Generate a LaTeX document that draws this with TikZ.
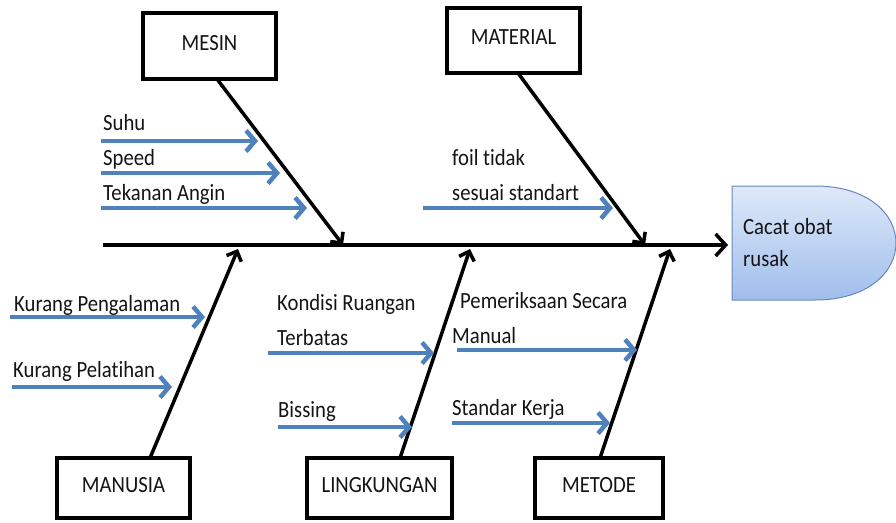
\documentclass[tikz,border=0pt]{standalone}
\usepackage{fontspec}
\setmainfont{Carlito}[Ligatures=CommonOff]
\usepackage{graphicx}
\usetikzlibrary{arrows.meta}
\definecolor{causeblue}{RGB}{79,129,189}
\definecolor{effecttop}{RGB}{222,233,249}
\definecolor{effectbot}{RGB}{160,190,236}
\definecolor{effectline}{RGB}{105,135,185}
\definecolor{txt}{RGB}{20,20,20}
\newcommand{\St}[1]{\scalebox{1}[1.12]{#1}}
\begin{document}
\begin{tikzpicture}[x=1pt,y=-1pt,
  catbox/.style={draw=black, line width=4pt, fill=white, inner sep=0pt,
    text depth=7pt, font=\fontsize{20.7}{24}\selectfont, text=txt},
  lbl/.style={anchor=base west, inner sep=0pt, font=\fontsize{20.7}{24}\selectfont, text=txt},
  bone/.style={line width=3.5pt, draw=black, -{Straight Barb[length=8pt,width=16pt]}},
  spinearrow/.style={line width=3.5pt, draw=black, -{Straight Barb[length=10pt,width=22pt]}},
  sub/.style={line width=4.5pt, draw=causeblue, -{Straight Barb[length=9pt,width=21pt]}}
]
\useasboundingbox (0,0) rectangle (896,522);

% category boxes
\node[catbox, minimum width=133pt, minimum height=66pt] (mesin) at (209.5,46) {\St{MESIN}};
\node[catbox, minimum width=133pt, minimum height=65pt] (material) at (513.5,40.5) {\St{MATERIAL}};
\node[catbox, minimum width=133pt, minimum height=60pt] (manusia) at (123.5,488) {\St{MANUSIA}};
\node[catbox, minimum width=145pt, minimum height=60pt] (lingkungan) at (379.5,488) {\St{LINGKUNGAN}};
\node[catbox, minimum width=128pt, minimum height=60pt] (metode) at (599,488) {\St{METODE}};

% effect head
\path[top color=effecttop, bottom color=effectbot, draw=effectline, line width=1pt]
  (732,186) -- (815,186) .. controls (868,186) and (896,214) .. (896,243)
  .. controls (896,272) and (868,300) .. (815,300) -- (732,300) -- cycle;
\node[anchor=west, inner sep=0pt, align=left, font=\fontsize{20.7}{32}\selectfont, text=txt]
  (effect) at (743,243) {\St{Cacat obat}\\\St{rusak}};

% spine
\coordinate (spineL) at (103,245);
\coordinate (spineTip) at (728,245);
\draw[spinearrow] (spineL) -- (spineTip);

% bones
\coordinate (mesinTail) at (217,79);
\coordinate (mesinTip) at (343,245);
\coordinate (materialTail) at (518,73);
\coordinate (materialTip) at (645,245);
\coordinate (manusiaTail) at (150,458);
\coordinate (manusiaTip) at (238,249);
\coordinate (lingkunganTail) at (400,458);
\coordinate (lingkunganTip) at (470,249);
\coordinate (metodeTail) at (600,458);
\coordinate (metodeTip) at (670,249);
\draw[bone] (mesinTail) -- (mesinTip);
\draw[bone] (materialTail) -- (materialTip);
\draw[bone] (manusiaTail) -- (manusiaTip);
\draw[bone] (lingkunganTail) -- (lingkunganTip);
\draw[bone] (metodeTail) -- (metodeTip);

% cause labels
\node[lbl] (suhu) at (103,130) {\St{Suhu}};
\node[lbl] (speed) at (103,165) {\St{Speed}};
\node[lbl] (tekanan) at (103,200) {\St{Tekanan Angin}};
\node[lbl] (foil1) at (452,165) {\St{foil tidak}};
\node[lbl] (foil2) at (452,200) {\St{sesuai standart}};
\node[lbl] (pengalaman) at (14,311) {\St{Kurang Pengalaman}};
\node[lbl] (pelatihan) at (13,377) {\St{Kurang Pelatihan}};
\node[lbl] (kondisi1) at (277,310) {\St{Kondisi Ruangan}};
\node[lbl] (kondisi2) at (277,345) {\St{Terbatas}};
\node[lbl] (bissing) at (278,417) {\St{Bissing}};
\node[lbl] (periksa1) at (460,308) {\St{Pemeriksaan Secara}};
\node[lbl] (periksa2) at (452,343) {\St{Manual}};
\node[lbl] (standar) at (452,415) {\St{Standar Kerja}};

% cause arrows
\coordinate (suhuS) at (101,141);      \coordinate (suhuE) at (258,141);
\coordinate (speedS) at (101,173);     \coordinate (speedE) at (280,173);
\coordinate (tekananS) at (101,208);   \coordinate (tekananE) at (307,208);
\coordinate (foilS) at (423,208);      \coordinate (foilE) at (613,208);
\coordinate (pengS) at (10,317);       \coordinate (pengE) at (205,317);
\coordinate (pelS) at (12,387);        \coordinate (pelE) at (172,387);
\coordinate (kondS) at (268,353);      \coordinate (kondE) at (434,353);
\coordinate (bisS) at (278,427);       \coordinate (bisE) at (412,427);
\coordinate (manS) at (457,350);       \coordinate (manE) at (637,350);
\coordinate (stdS) at (452,423);       \coordinate (stdE) at (610,423);
\draw[sub] (suhuS) -- (suhuE);
\draw[sub] (speedS) -- (speedE);
\draw[sub] (tekananS) -- (tekananE);
\draw[sub] (foilS) -- (foilE);
\draw[sub] (pengS) -- (pengE);
\draw[sub] (pelS) -- (pelE);
\draw[sub] (kondS) -- (kondE);
\draw[sub] (bisS) -- (bisE);
\draw[sub] (manS) -- (manE);
\draw[sub] (stdS) -- (stdE);
\end{tikzpicture}
\end{document}
